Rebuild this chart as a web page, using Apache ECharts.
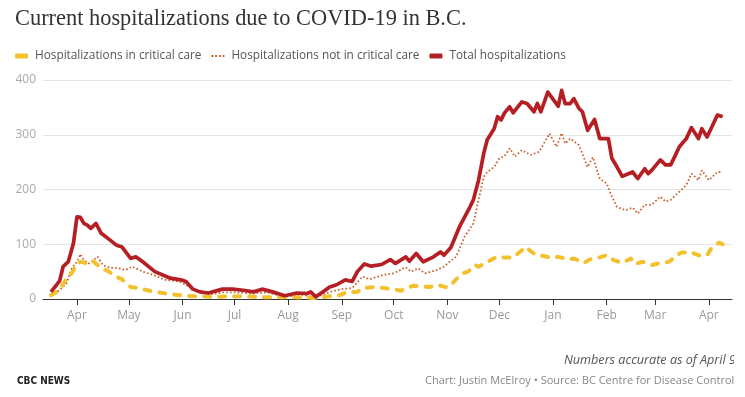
<!DOCTYPE html>
<html>
<head>
<meta charset="utf-8">
<title>Current hospitalizations due to COVID-19 in B.C.</title>
<script src="https://cdn.jsdelivr.net/npm/echarts@6/dist/echarts.min.js"></script>
<style>
  html, body { margin: 0; padding: 0; background: #fff; }
  #chart { width: 745px; height: 397px; }
</style>
</head>
<body>
<div id="chart"></div>
<script>
// values (approximate, every few days)
var totalPoints = [
  ['2020-03-17', 13], ['2020-03-20', 25], ['2020-03-22', 33], ['2020-03-24', 59],
  ['2020-03-27', 68], ['2020-03-30', 102], ['2020-04-01', 150], ['2020-04-03', 149],
  ['2020-04-05', 138], ['2020-04-07', 135], ['2020-04-09', 129], ['2020-04-12', 138],
  ['2020-04-15', 120], ['2020-04-20', 108], ['2020-04-24', 98], ['2020-04-27', 95],
  ['2020-05-02', 74], ['2020-05-05', 77], ['2020-05-09', 68], ['2020-05-16', 50],
  ['2020-05-25', 38], ['2020-05-31', 35], ['2020-06-03', 32], ['2020-06-07', 18],
  ['2020-06-11', 13], ['2020-06-16', 11], ['2020-06-24', 18], ['2020-06-30', 18],
  ['2020-07-06', 16], ['2020-07-12', 13], ['2020-07-17', 18], ['2020-07-23', 13],
  ['2020-07-30', 6], ['2020-08-06', 11], ['2020-08-12', 10], ['2020-08-14', 13],
  ['2020-08-17', 4], ['2020-08-21', 13], ['2020-08-25', 22], ['2020-08-29', 26],
  ['2020-09-03', 35], ['2020-09-07', 32], ['2020-09-10', 50], ['2020-09-14', 64],
  ['2020-09-18', 60], ['2020-09-24', 63], ['2020-09-29', 72], ['2020-10-02', 65],
  ['2020-10-08', 77], ['2020-10-10', 69], ['2020-10-14', 83], ['2020-10-18', 68],
  ['2020-10-24', 77], ['2020-10-28', 86], ['2020-10-30', 80], ['2020-11-03', 94],
  ['2020-11-08', 132], ['2020-11-14', 168], ['2020-11-16', 181], ['2020-11-19', 217],
  ['2020-11-22', 266], ['2020-11-24', 291], ['2020-11-28', 311], ['2020-11-30', 333],
  ['2020-12-02', 327], ['2020-12-04', 340], ['2020-12-07', 351], ['2020-12-09', 340],
  ['2020-12-11', 348], ['2020-12-14', 360], ['2020-12-17', 357], ['2020-12-21', 342],
  ['2020-12-23', 357], ['2020-12-25', 342], ['2020-12-29', 378], ['2021-01-04', 352],
  ['2021-01-06', 381], ['2021-01-08', 357], ['2021-01-11', 357], ['2021-01-13', 366],
  ['2021-01-16', 348], ['2021-01-18', 342], ['2021-01-21', 308], ['2021-01-25', 328],
  ['2021-01-28', 293], ['2021-02-02', 293], ['2021-02-04', 257], ['2021-02-07', 241],
  ['2021-02-10', 224], ['2021-02-16', 232], ['2021-02-19', 220], ['2021-02-23', 238],
  ['2021-02-25', 229], ['2021-02-27', 235], ['2021-03-04', 254], ['2021-03-07', 245],
  ['2021-03-10', 245], ['2021-03-15', 278], ['2021-03-19', 293], ['2021-03-22', 313],
  ['2021-03-26', 293], ['2021-03-28', 311], ['2021-03-31', 296], ['2021-04-06', 336],
  ['2021-04-09', 333]
];

var notCriticalPoints = [
  ['2020-03-17', 7], ['2020-03-22', 16], ['2020-03-26', 29], ['2020-03-29', 56],
  ['2020-04-01', 68], ['2020-04-03', 82], ['2020-04-05', 71], ['2020-04-08', 65],
  ['2020-04-13', 77], ['2020-04-16', 62], ['2020-04-20', 57], ['2020-04-24', 57],
  ['2020-04-29', 53], ['2020-05-03', 59], ['2020-05-09', 50], ['2020-05-15', 44],
  ['2020-05-22', 35], ['2020-05-30', 32], ['2020-06-03', 26], ['2020-06-09', 16],
  ['2020-06-16', 8], ['2020-06-24', 12], ['2020-07-02', 12], ['2020-07-10', 10],
  ['2020-07-20', 12], ['2020-07-30', 4], ['2020-08-08', 8], ['2020-08-17', 3],
  ['2020-08-25', 13], ['2020-09-01', 18], ['2020-09-07', 20], ['2020-09-13', 41],
  ['2020-09-17', 36], ['2020-09-25', 44], ['2020-10-01', 47], ['2020-10-08', 58],
  ['2020-10-11', 50], ['2020-10-15', 56], ['2020-10-19', 47], ['2020-10-26', 53],
  ['2020-10-30', 59], ['2020-11-03', 70], ['2020-11-06', 77], ['2020-11-11', 114],
  ['2020-11-16', 138], ['2020-11-19', 181], ['2020-11-22', 223], ['2020-11-24', 232],
  ['2020-11-28', 241], ['2020-12-01', 257], ['2020-12-04', 261], ['2020-12-07', 275],
  ['2020-12-10', 260], ['2020-12-14', 272], ['2020-12-19', 263], ['2020-12-24', 269],
  ['2020-12-30', 302], ['2021-01-03', 278], ['2021-01-06', 303], ['2021-01-08', 284],
  ['2021-01-11', 293], ['2021-01-16', 281], ['2021-01-21', 241], ['2021-01-24', 259],
  ['2021-01-28', 220], ['2021-02-01', 211], ['2021-02-04', 187], ['2021-02-07', 168],
  ['2021-02-12', 162], ['2021-02-16', 167], ['2021-02-19', 156], ['2021-02-23', 172],
  ['2021-02-27', 172], ['2021-03-04', 187], ['2021-03-07', 178], ['2021-03-10', 181],
  ['2021-03-15', 196], ['2021-03-19', 208], ['2021-03-22', 229], ['2021-03-26', 217],
  ['2021-03-28', 235], ['2021-04-01', 217], ['2021-04-06', 232], ['2021-04-09', 232]
];

var criticalPoints = [
  ['2020-03-17', 7], ['2020-03-22', 16], ['2020-03-26', 38], ['2020-03-29', 47],
  ['2020-04-01', 65], ['2020-04-03', 68], ['2020-04-07', 65], ['2020-04-10', 70],
  ['2020-04-15', 56], ['2020-04-19', 51], ['2020-04-24', 40], ['2020-04-27', 36],
  ['2020-05-02', 22], ['2020-05-06', 20], ['2020-05-13', 15], ['2020-05-18', 12],
  ['2020-05-25', 9], ['2020-05-30', 7], ['2020-06-07', 5], ['2020-06-20', 4],
  ['2020-07-05', 5], ['2020-07-20', 3], ['2020-08-05', 3], ['2020-08-17', 2],
  ['2020-08-25', 5], ['2020-08-31', 7], ['2020-09-04', 13], ['2020-09-10', 13],
  ['2020-09-13', 20], ['2020-09-21', 22], ['2020-09-25', 20], ['2020-10-01', 18],
  ['2020-10-05', 15], ['2020-10-12', 24], ['2020-10-22', 22], ['2020-10-26', 26],
  ['2020-11-01', 21], ['2020-11-04', 29], ['2020-11-09', 46], ['2020-11-13', 50],
  ['2020-11-17', 62], ['2020-11-19', 59], ['2020-11-26', 71], ['2020-11-29', 76],
  ['2020-12-09', 76], ['2020-12-14', 89], ['2020-12-16', 95], ['2020-12-21', 83],
  ['2020-12-24', 80], ['2020-12-30', 76], ['2021-01-04', 77], ['2021-01-10', 72],
  ['2021-01-13', 74], ['2021-01-19', 66], ['2021-01-22', 72], ['2021-01-28', 76],
  ['2021-02-01', 80], ['2021-02-05', 71], ['2021-02-10', 66], ['2021-02-15', 74],
  ['2021-02-17', 64], ['2021-02-22', 68], ['2021-02-27', 62], ['2021-03-03', 65],
  ['2021-03-09', 68], ['2021-03-15', 83], ['2021-03-17', 85], ['2021-03-22', 85],
  ['2021-03-26', 80], ['2021-03-31', 80], ['2021-04-03', 95], ['2021-04-07', 103],
  ['2021-04-09', 100]
];

var monthNames = ['Jan', 'Feb', 'Mar', 'Apr', 'May', 'Jun', 'Jul', 'Aug', 'Sep', 'Oct', 'Nov', 'Dec'];

var DAY = 86400000;
function utc(s) {
    var p = s.split('-');
    return Date.UTC(+p[0], +p[1] - 1, +p[2]);
}
function toSeries(points) {
    return points.map(function (p) { return [utc(p[0]), p[1]]; });
}

var YELLOW = '#f2c12e';
var BROWN = '#c8612b';
var RED = '#b51f24';

var myChart = echarts.init(document.getElementById('chart'));
myChart.setOption({
    useUTC: true,
    animation: false,
    title: {
        text: 'Current hospitalizations due to COVID-19 in B.C.',
        left: 15,
        top: 8,
        padding: 0,
        textStyle: {
            fontFamily: 'Liberation Serif',
            fontSize: 22.4,
            fontWeight: 'normal',
            color: '#333'
        }
    },
    legend: {
        left: 15,
        top: 50,
        padding: 0,
        itemGap: 10,
        itemWidth: 13,
        itemHeight: 5,
        selectedMode: false,
        textStyle: { fontFamily: 'Open Sans', fontSize: 11.8, color: '#555', padding: [0, 0, 0, 2] },
        data: [
            { name: 'Hospitalizations in critical care', icon: 'roundRect', itemStyle: { color: YELLOW } },
            {
                name: 'Hospitalizations not in critical care',
                icon: 'path://M0,0h2v2H0z M4,0h2v2H4z M8,0h2v2H8z M12,0h2v2H12z',
                itemStyle: { color: BROWN }
            },
            { name: 'Total hospitalizations', icon: 'roundRect', itemStyle: { color: RED } }
        ]
    },
    grid: {
        left: 43,
        right: 13,
        top: 80,
        bottom: 98
    },
    xAxis: {
        type: 'time',
        min: utc('2020-04-01') - 19.6 * DAY,
        max: utc('2021-04-01') + 13.4 * DAY,
        splitNumber: 13,
        minInterval: 28 * DAY,
        maxInterval: 31 * DAY,
        axisLine: { lineStyle: { color: '#333', width: 1 } },
        axisTick: { show: true, length: 6, lineStyle: { color: '#333' } },
        axisLabel: {
            color: '#999',
            fontFamily: 'Open Sans',
            fontSize: 12,
            margin: 11,
            formatter: function (val) {
                return monthNames[new Date(val).getUTCMonth()];
            }
        },
        splitLine: { show: false }
    },
    yAxis: {
        type: 'value',
        min: 0,
        max: 400,
        interval: 100,
        axisLine: { show: false },
        axisTick: { show: false },
        axisLabel: { color: '#aaa', fontFamily: 'Open Sans', fontSize: 12, margin: 7 },
        splitLine: { lineStyle: { color: '#e4e4e4', width: 1 } }
    },
    series: [
        {
            name: 'Hospitalizations not in critical care',
            type: 'line',
            data: toSeries(notCriticalPoints),
            color: BROWN,
            symbol: 'none',
            z: 2,
            lineStyle: { color: BROWN, width: 1.8, type: [1.6, 2.2] }
        },
        {
            name: 'Hospitalizations in critical care',
            type: 'line',
            data: toSeries(criticalPoints),
            color: YELLOW,
            symbol: 'none',
            z: 3,
            lineStyle: { color: YELLOW, width: 4, type: [6, 9], cap: 'round', join: 'round' }
        },
        {
            name: 'Total hospitalizations',
            type: 'line',
            data: toSeries(totalPoints),
            color: RED,
            symbol: 'none',
            z: 4,
            lineStyle: { color: RED, width: 3.7, join: 'round' }
        }
    ],
    graphic: [
        {
            type: 'text', left: 564, top: 354, z: 10,
            style: { text: 'Numbers accurate as of April 9', fontFamily: 'Open Sans', fontStyle: 'italic', fontSize: 12.6, fill: '#555' }
        },
        {
            type: 'text', left: 17, top: 376, z: 10,
            style: { text: 'CBC NEWS', fontFamily: "'Liberation Sans Narrow', 'DejaVu Sans Condensed', 'Liberation Sans', sans-serif", fontWeight: 'bold', fontSize: 10, fill: '#222' }
        },
        {
            type: 'text', left: 425, top: 375, z: 10,
            style: { text: 'Chart: Justin McElroy \u2022 Source: BC Centre for Disease Control', fontFamily: 'Open Sans', fontSize: 11, fill: '#888' }
        },
        {
            type: 'rect', z: 11,
            shape: { x: 734, y: 345, width: 11, height: 52 },
            style: { fill: '#fff' }
        }
    ]
});
</script>
</body>
</html>
